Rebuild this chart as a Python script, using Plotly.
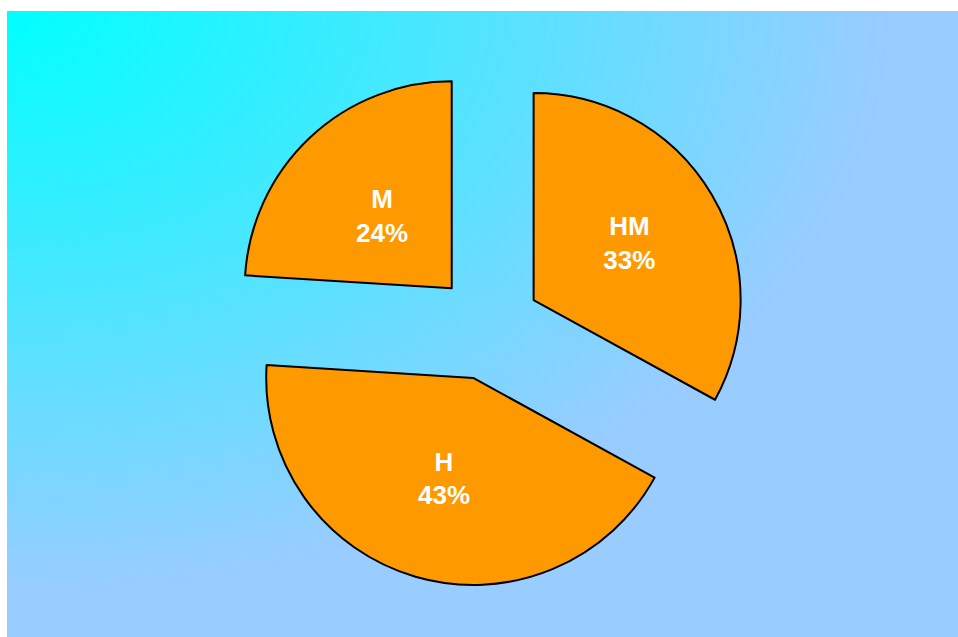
import base64
import plotly.graph_objects as go

labels = ["HM", "H", "M"]
values = [33, 43, 24]

W, H = 958, 637
# background gradient panel (pixels)
bx0, by0, bx1, by1 = 7, 11, 958, 637
pw, ph = bx1 - bx0, by1 - by0

# gradient spreading from the top-left corner
svg = (
    f'<svg xmlns="http://www.w3.org/2000/svg" width="{pw}" height="{ph}" '
    f'viewBox="0 0 {pw} {ph}" preserveAspectRatio="none">'
    '<defs>'
    '<radialGradient id="g" cx="0" cy="0" r="1" fx="0" fy="0">'
    '<stop offset="0" stop-color="#00FFFF"/>'
    '<stop offset="0.93" stop-color="#99CCFF"/>'
    '<stop offset="1" stop-color="#99CCFF"/>'
    '</radialGradient>'
    '</defs>'
    f'<rect x="0" y="0" width="{pw}" height="{ph}" fill="url(#g)"/>'
    '</svg>'
)
src = "data:image/svg+xml;base64," + base64.b64encode(svg.encode()).decode()

cx, cy, half = 488, 327, 260

NB = "\u00a0"
templates = [
    "%{label}<br>%{percent}",
    "%{label}<br>%{percent}",
    NB + "<br>" + NB * 4 + "%{label}<br>" + NB * 4 + "%{percent}",
]

fig = go.Figure(go.Pie(
    labels=labels,
    values=values,
    sort=False,
    direction="clockwise",
    rotation=0,
    pull=0.256,
    texttemplate=templates,
    textposition="inside",
    insidetextorientation="horizontal",
    insidetextfont=dict(family="Liberation Sans, Arial", size=26, color="white", weight="bold"),
    marker=dict(colors=["#FF9900"] * 3, line=dict(color="black", width=2)),
    hoverinfo="label+percent",
    showlegend=False,
    domain=dict(x=[(cx - half) / W, (cx + half) / W],
                y=[1 - (cy + half) / H, 1 - (cy - half) / H]),
))

fig.update_layout(
    width=W, height=H,
    margin=dict(l=0, r=0, t=0, b=0),
    paper_bgcolor="white",
    showlegend=False,
    images=[dict(
        source=src, xref="paper", yref="paper",
        x=bx0 / W, y=1 - by0 / H,
        sizex=pw / W, sizey=ph / H,
        xanchor="left", yanchor="top", sizing="stretch", layer="below",
    )],
)

fig.write_html("out.html")
